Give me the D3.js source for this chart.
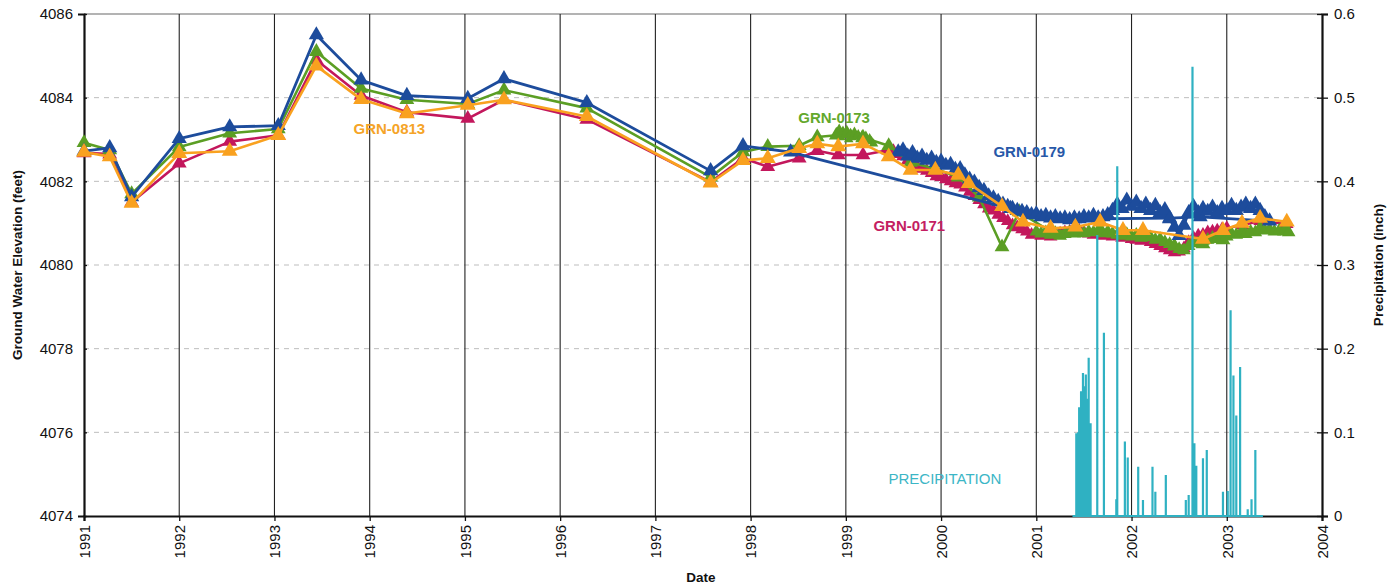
<!DOCTYPE html>
<html><head><meta charset="utf-8">
<script src="https://cdn.jsdelivr.net/npm/d3@7/dist/d3.min.js"></script>
<style>
body{margin:0;background:#fff}
text{font-family:"Liberation Sans",Arial,sans-serif}
</style>
</head><body>
<svg id="c" width="1389" height="586"></svg>
<script>
// ---------------- DATA ----------------
const yearTicks = [1991,1992,1993,1994,1995,1996,1997,1998,1999,2000,2001,2002,2003,2004];
const elevTicks = [4074,4076,4078,4080,4082,4084,4086];
const precipTicks = [0,0.1,0.2,0.3,0.4,0.5,0.6];

// GRN-0171 (crimson)
const gw0171Manual = [[1991.0,4082.68],[1991.27,4082.65],[1991.5,4081.5],[1992.0,4082.43],[1992.53,4082.95],[1993.04,4083.1],[1993.44,4084.9],[1993.91,4084.05],[1994.39,4083.65],[1995.03,4083.5],[1995.41,4083.95],[1996.28,4083.48],[1997.58,4081.98],[1997.92,4082.55],[1998.18,4082.35],[1998.51,4082.55],[1998.7,4082.73],[1998.92,4082.63],[1999.18,4082.63],[1999.45,4082.75]];
const gw0171Logger = [[1999.5,4082.72],[1999.55,4082.65],[1999.6,4082.6],[1999.65,4082.5],[1999.7,4082.45],[1999.75,4082.35],[1999.8,4082.3],[1999.85,4082.25],[1999.9,4082.2],[1999.95,4082.12],[2000.0,4082.1],[2000.05,4082.05],[2000.1,4082.0],[2000.15,4081.95],[2000.2,4081.92],[2000.25,4081.85],[2000.3,4081.75],[2000.35,4081.65],[2000.4,4081.55],[2000.45,4081.45],[2000.5,4081.35],[2000.55,4081.3],[2000.6,4081.2],[2000.65,4081.12],[2000.7,4081.05],[2000.75,4080.95],[2000.8,4080.9],[2000.85,4080.85],[2000.9,4080.8],[2000.95,4080.72],[2001.0,4080.75],[2001.05,4080.7],[2001.1,4080.72],[2001.15,4080.68],[2001.2,4080.72],[2001.25,4080.75],[2001.3,4080.78],[2001.35,4080.8],[2001.4,4080.8],[2001.45,4080.82],[2001.5,4080.78],[2001.55,4080.75],[2001.6,4080.72],[2001.65,4080.75],[2001.7,4080.7],[2001.75,4080.72],[2001.8,4080.68],[2001.85,4080.7],[2001.9,4080.65],[2001.95,4080.68],[2002.0,4080.62],[2002.05,4080.6],[2002.1,4080.58],[2002.15,4080.6],[2002.2,4080.55],[2002.25,4080.5],[2002.3,4080.45],[2002.35,4080.4],[2002.4,4080.35],[2002.45,4080.3],[2002.5,4080.32],[2002.55,4080.4],[2002.6,4080.55],[2002.65,4080.65],[2002.7,4080.7],[2002.75,4080.72],[2002.8,4080.78],[2002.85,4080.8],[2002.9,4080.82],[2002.95,4080.85],[2003.0,4080.88],[2003.16,4080.95],[2003.35,4081.05],[2003.63,4080.98]];

// GRN-0173 (green)
const gw0173Manual = [[1991.0,4082.92],[1991.27,4082.75],[1991.5,4081.7],[1992.0,4082.82],[1992.53,4083.15],[1993.04,4083.25],[1993.44,4085.1],[1993.91,4084.22],[1994.39,4083.95],[1995.03,4083.85],[1995.41,4084.18],[1996.28,4083.75],[1997.58,4082.1],[1997.92,4082.7],[1998.18,4082.83],[1998.51,4082.85],[1998.7,4083.06],[1998.9,4083.1],[1999.18,4083.05],[1999.45,4082.85],[1999.68,4082.45],[1999.94,4082.3],[2000.18,4082.1],[2000.4,4081.62],[2000.64,4080.43],[2000.82,4081.27],[2001.15,4080.8],[2001.41,4080.82],[2001.67,4080.85],[2001.91,4080.75],[2002.12,4080.7],[2002.45,4080.45],[2002.75,4080.5],[2002.96,4080.6],[2003.16,4080.78],[2003.35,4080.88],[2003.63,4080.82]];
const gw0173LoggerA = [[1998.93,4083.25],[1998.95,4083.05],[1998.97,4083.2],[1998.99,4083.1],[1999.01,4083.22],[1999.03,4083.0],[1999.05,4083.15],[1999.07,4083.05],[1999.09,4083.18],[1999.11,4083.08],[1999.13,4083.12],[1999.15,4083.0],[1999.17,4083.1],[1999.19,4083.05],[1999.21,4083.08],[1999.23,4082.98],[1999.25,4083.02],[1999.27,4082.95],[1999.29,4082.9]];
const gw0173LoggerB = [[2001.0,4080.8],[2001.05,4080.75],[2001.1,4080.78],[2001.15,4080.72],[2001.2,4080.76],[2001.25,4080.7],[2001.3,4080.74],[2001.35,4080.78],[2001.4,4080.75],[2001.45,4080.8],[2001.5,4080.76],[2001.55,4080.8],[2001.6,4080.78],[2001.65,4080.82],[2001.7,4080.76],[2001.75,4080.8],[2001.8,4080.75],[2001.85,4080.72],[2001.9,4080.7],[2001.95,4080.74],[2002.0,4080.68],[2002.05,4080.72],[2002.1,4080.65],[2002.15,4080.7],[2002.2,4080.66],[2002.25,4080.6],[2002.3,4080.62],[2002.35,4080.55],[2002.4,4080.5],[2002.45,4080.45],[2002.5,4080.38],[2002.55,4080.35],[2002.6,4080.45],[2002.65,4080.55],[2002.7,4080.52],[2002.75,4080.58],[2002.8,4080.6],[2002.85,4080.65],[2002.9,4080.62],[2002.95,4080.7],[2003.0,4080.68],[2003.05,4080.75],[2003.1,4080.72],[2003.15,4080.78],[2003.2,4080.74],[2003.25,4080.8],[2003.3,4080.78],[2003.35,4080.85],[2003.4,4080.82],[2003.45,4080.85],[2003.5,4080.8],[2003.55,4080.82],[2003.6,4080.8],[2003.65,4080.78]];

// GRN-0179 (blue)
const gw0179Manual = [[1991.0,4082.72],[1991.27,4082.8],[1991.5,4081.63],[1992.0,4083.02],[1992.53,4083.3],[1993.04,4083.33],[1993.44,4085.5],[1993.91,4084.42],[1994.39,4084.05],[1995.03,4083.98],[1995.41,4084.45],[1996.28,4083.88],[1997.58,4082.25],[1997.92,4082.85],[1998.42,4082.7],[2000.73,4081.35],[2001.4,4081.1],[2002.4,4081.12],[2002.72,4081.15],[2003.45,4081.05]];
const gw0179Logger = [[1999.55,4082.7],[1999.6,4082.75],[1999.65,4082.6],[1999.7,4082.68],[1999.75,4082.55],[1999.8,4082.6],[1999.85,4082.5],[1999.9,4082.55],[1999.95,4082.45],[2000.0,4082.48],[2000.05,4082.38],[2000.1,4082.4],[2000.15,4082.28],[2000.2,4082.3],[2000.25,4082.15],[2000.3,4082.05],[2000.35,4081.98],[2000.4,4081.85],[2000.45,4081.78],[2000.5,4081.65],[2000.55,4081.6],[2000.6,4081.52],[2000.65,4081.45],[2000.7,4081.4],[2000.75,4081.35],[2000.8,4081.3],[2000.85,4081.28],[2000.9,4081.25],[2000.95,4081.2],[2001.0,4081.22],[2001.05,4081.15],[2001.1,4081.18],[2001.15,4081.12],[2001.2,4081.15],[2001.25,4081.1],[2001.3,4081.12],[2001.35,4081.08],[2001.4,4081.12],[2001.45,4081.1],[2001.5,4081.15],[2001.55,4081.12],[2001.6,4081.18],[2001.65,4081.12],[2001.7,4081.15],[2001.75,4081.2],[2001.8,4081.3],[2001.85,4081.45],[2001.9,4081.35],[2001.95,4081.55],[2002.0,4081.4],[2002.05,4081.5],[2002.1,4081.35],[2002.15,4081.45],[2002.2,4081.3],[2002.25,4081.42],[2002.3,4081.25],[2002.35,4081.32],[2002.4,4081.1],[2002.45,4080.9],[2002.5,4080.7],[2002.55,4080.95],[2002.6,4081.25],[2002.65,4081.4],[2002.7,4081.25],[2002.75,4081.35],[2002.8,4081.28],[2002.85,4081.38],[2002.9,4081.25],[2002.95,4081.35],[2003.0,4081.3],[2003.05,4081.42],[2003.1,4081.3],[2003.15,4081.38],[2003.2,4081.45],[2003.25,4081.35],[2003.3,4081.45],[2003.35,4081.3],[2003.4,4081.15]];

// GRN-0813 (orange)
const gw0813 = [[1991.0,4082.7],[1991.27,4082.59],[1991.5,4081.48],[1992.0,4082.67],[1992.53,4082.72],[1993.04,4083.1],[1993.44,4084.76],[1993.91,4083.96],[1994.39,4083.62],[1995.03,4083.82],[1995.41,4083.95],[1996.28,4083.55],[1997.58,4081.96],[1997.92,4082.5],[1998.18,4082.55],[1998.51,4082.79],[1998.7,4082.9],[1998.92,4082.83],[1999.18,4082.9],[1999.45,4082.59],[1999.68,4082.27],[1999.94,4082.27],[2000.18,4082.15],[2000.29,4081.95],[2000.64,4081.4],[2000.86,4081.03],[2001.15,4080.88],[2001.41,4080.91],[2001.67,4081.03],[2001.91,4080.83],[2002.12,4080.83],[2002.75,4080.62],[2002.96,4080.83],[2003.16,4081.0],[2003.35,4081.12],[2003.63,4081.03]];

// Precipitation (inch): [date, value]
const precipRange = [2001.38, 2003.38];
const precip = [[2001.42,0.099],[2001.44,0.10],[2001.45,0.13],[2001.47,0.149],[2001.49,0.171],[2001.5,0.155],[2001.52,0.169],[2001.53,0.14],[2001.55,0.189],[2001.57,0.111],[2001.64,0.336],[2001.71,0.219],[2001.84,0.02],[2001.85,0.418],[2001.93,0.089],[2001.96,0.07],[2002.07,0.059],[2002.12,0.019],[2002.22,0.059],[2002.25,0.029],[2002.36,0.049],[2002.57,0.019],[2002.60,0.025],[2002.64,0.537],[2002.66,0.087],[2002.68,0.06],[2002.75,0.069],[2002.79,0.079],[2002.96,0.029],[2003.01,0.03],[2003.04,0.246],[2003.07,0.168],[2003.10,0.12],[2003.14,0.178],[2003.22,0.008],[2003.26,0.02],[2003.30,0.079]];

const seriesLabels = [
  {text:"GRN-0813", date:1993.83, elev:4083.25, color:"#f5a428"},
  {text:"GRN-0173", date:1998.5, elev:4083.51, color:"#63a82c"},
  {text:"GRN-0179", date:2000.55, elev:4082.7, color:"#2758a8"},
  {text:"GRN-0171", date:1999.29, elev:4080.95, color:"#c41e62"}
];
const precipLabel = {text:"PRECIPITATION", date:2000.04, value:0.045};

// ---------------- CHART ----------------
const W = 1389, H = 586;
const L = 84, R = 1322, T = 14, B = 516;
const svg = d3.select("#c");
svg.append("rect").attr("width",W).attr("height",H).attr("fill","#fff");

const x = d3.scaleLinear().domain([1991,2004]).range([L,R]);
const y = d3.scaleLinear().domain([4074,4086]).range([B,T]);
const yP = d3.scaleLinear().domain([0,0.6]).range([B,T]);

// horizontal dashed grid
svg.append("g").selectAll("line").data(elevTicks.filter(v=>v>4074 && v<4086)).join("line")
  .attr("x1",L).attr("x2",R).attr("y1",d=>y(d)).attr("y2",d=>y(d))
  .attr("stroke","#bdbdbd").attr("stroke-width",1).attr("stroke-dasharray","5,5");
// top border
svg.append("line").attr("x1",L).attr("x2",R).attr("y1",T).attr("y2",T).attr("stroke","#9a9a9a").attr("stroke-width",1.5);
// vertical grid
svg.append("g").selectAll("line").data(yearTicks.filter(v=>v>1991 && v<2004)).join("line")
  .attr("x1",d=>x(d)).attr("x2",d=>x(d)).attr("y1",T).attr("y2",B)
  .attr("stroke","#222").attr("stroke-width",1.1);

// axes
const axL = svg.append("g").attr("transform",`translate(${L},0)`)
  .call(d3.axisLeft(y).tickValues(elevTicks).tickSize(6).tickFormat(d3.format("d")));
const axR = svg.append("g").attr("transform",`translate(${R},0)`)
  .call(d3.axisRight(yP).tickValues(precipTicks).tickSize(6).tickFormat(d=>d===0?"0":d3.format(".1f")(d)));
const axB = svg.append("g").attr("transform",`translate(0,${B})`)
  .call(d3.axisBottom(x).tickValues(yearTicks).tickSize(5).tickFormat(d3.format("d")));
[axL,axR,axB].forEach(g=>{
  g.select(".domain").attr("stroke","#111").attr("stroke-width",2.2);
  g.selectAll(".tick line").attr("stroke","#111").attr("stroke-width",1.3);
  g.selectAll("text").attr("fill","#111").style("font-size","15px").style("font-family","'Liberation Sans',Arial,sans-serif");
});
axR.selectAll(".tick line").attr("x1",-5);
axL.selectAll(".tick line").attr("x2",3);
axL.selectAll("text").attr("x",-11);
axR.selectAll("text").attr("x",12);
axB.selectAll("text").attr("transform","rotate(-90)").attr("text-anchor","end")
  .attr("x",-9).attr("y",0).attr("dy","0.35em");

// series drawing
const line = d3.line().x(d=>x(d[0])).y(d=>y(d[1]));
const tri = d3.symbol().type(d3.symbolTriangle);
function drawSeries(data, color, lw, msize){
  const g = svg.append("g");
  g.append("path").datum(data).attr("d",line).attr("fill","none")
    .attr("stroke",color).attr("stroke-width",lw).attr("stroke-linejoin","round");
  g.selectAll("path.m").data(data).join("path").attr("class","m")
    .attr("d",tri.size(msize)()).attr("transform",d=>`translate(${x(d[0])},${y(d[1])})`)
    .attr("fill",color);
}
const cMag = "#c3175c", cGrn = "#5b9e24", cBlu = "#1d4c9c", cOra = "#f9a11f";
drawSeries(gw0171Manual, cMag, 2.6, 95);
drawSeries(gw0171Logger, cMag, 2.4, 80);
drawSeries(gw0173Manual, cGrn, 2.6, 95);
drawSeries(gw0173LoggerA, cGrn, 2.0, 40);
drawSeries(gw0173LoggerB, cGrn, 2.4, 80);
drawSeries(gw0179Manual, cBlu, 2.8, 100);
drawSeries(gw0179Logger, cBlu, 2.6, 100);
drawSeries(gw0813, cOra, 2.6, 110);

// precipitation
let pd = `M${x(precipRange[0])},${yP(0)}`;
precip.forEach(([d,v])=>{ pd += `L${x(d)},${yP(0)}L${x(d)},${yP(v)}L${x(d)},${yP(0)}`; });
pd += `L${x(precipRange[1])},${yP(0)}`;
svg.append("path").attr("d",pd).attr("fill","none").attr("stroke","#2fb1c2").attr("stroke-width",2.2);

// series labels
svg.append("g").selectAll("text").data(seriesLabels).join("text")
  .attr("x",d=>x(d.date)).attr("y",d=>y(d.elev)).attr("dy","0.35em")
  .attr("fill",d=>d.color).style("font-size","15px").style("font-weight","bold").text(d=>d.text);
svg.append("text").attr("x",x(precipLabel.date)).attr("y",yP(precipLabel.value)).attr("dy","0.35em")
  .attr("text-anchor","middle").attr("fill","#3cb6c6").style("font-size","15px").text(precipLabel.text);

// axis titles
svg.append("text").attr("transform",`translate(22,${(T+B)/2}) rotate(-90)`).attr("text-anchor","middle")
  .style("font-size","13.5px").style("font-weight","bold").attr("fill","#111").text("Ground Water Elevation (feet)");
svg.append("text").attr("transform",`translate(1383,${(T+B)/2}) rotate(-90)`).attr("text-anchor","middle")
  .style("font-size","13.5px").style("font-weight","bold").attr("fill","#111").text("Precipitation (inch)");
svg.append("text").attr("x",701).attr("y",582).attr("text-anchor","middle")
  .style("font-size","13.5px").style("font-weight","bold").attr("fill","#111").text("Date");
</script>
</body></html>
